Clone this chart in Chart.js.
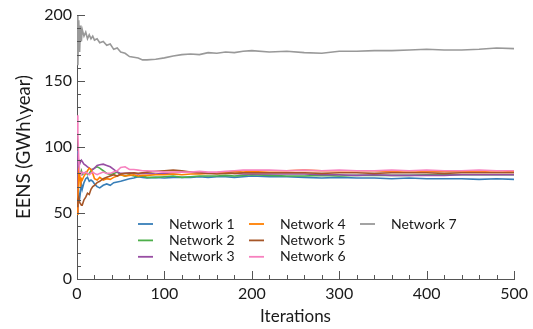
<!DOCTYPE html>
<html>
<head>
<meta charset="utf-8">
<script src="https://cdn.jsdelivr.net/npm/chart.js@4/dist/chart.umd.min.js"></script>
<style>
  html, body { margin: 0; padding: 0; background: #fff; }
  #wrap { width: 533px; height: 329px; }
</style>
</head>
<body>
<div id="wrap"><canvas id="eensChart" width="533" height="329"></canvas></div>
<script>
// iteration positions of the sampled points
const iterations = [0,1,2,3,4,5,6,8,10,12,14,16,18,20,23,26,30,34,38,42,46,50,55,60,65,70,75,80,90,100,
  110,120,130,140,150,160,170,180,190,200,220,240,260,280,300,320,340,360,380,400,420,440,460,480,500];

const network1 = [97,80,63,61,66,72,68,73,76,77,74,75,74,72,70,69,71,72,71,73,73.5,74,75,76,76.5,77.5,77,76.5,77,76.5,
  77,77,77,77.5,77,77.5,77.5,77,77.5,78,77.5,77.5,77,76.5,77,76.5,76.5,76,76.5,76,76,76,75.5,76,75.5];
const network2 = [89,86,84,81,80,82,79,80,81,79,80,82,83,84,85,84,82,80,79,80,81,79,78,79,78,77.5,78,77,77,77.5,
  78,77,77.5,78,78,78,78.5,78,78.5,79,78.5,78,78,78.5,78,78.5,78.5,78.5,78.5,79,79,79,79,79,79];
const network3 = [50,92,90,87,89,90,89,87,86,85,84,83,83,84,86,86.5,87,86,85,83,81,80,80,80.5,80,79.5,80,80,79.5,80,
  80.5,81,81,80.5,80.5,80.5,81,80,79.5,79.5,79.5,79.5,79.5,79,79,78.5,79,78.5,78.5,78.5,78.5,79,79,79,79];
const network4 = [49,60,82,80,70,76,75,78,80,82,84,83,80,76,75,77,75,76,75.5,77,78,79,78,78.5,79,78,78.5,78.5,79,79,
  79.5,79,79.5,79.5,80,80.5,81,81.5,81,81.5,82,82,82.5,82,82,82,82,81.5,82,81.5,81.5,81.5,81.5,82,81.5];
const network5 = [55,60,62,58,57,56,56,60,62,65,64,68,70,71,73,74,76,77,78,79,78,79.5,80,80,80.5,80,80.5,81,81.5,82,
  82.5,82,81,80.5,80,79.5,80,80,80.5,80.5,80.5,80.5,80.5,80,80.5,80.5,80,80.5,80.5,80.5,80,80.5,80.5,80.5,80.5];
const network6 = [124,110,90,82,80,79,81,80,81,80,79,80,81,80,79,80,81,80,80,81,82,84.5,85,83,83,82.5,82,82,81.5,81,
  81,81,81,81.5,81,81,81.5,82,82.5,82.5,82.5,82,82.5,82,82.5,82,82,82.5,82,82.5,82,82,82.5,82,82];
const network7 = [200,162,196,172,192,180,189,184,187,182,185,182,184,181,182,179,180,177,178,174,175,172,171,168.5,168,167.5,166,166,166.5,167.5,
  169,170,170.5,170,171.5,171,172,171.5,172.5,173,172,172.5,171.5,171,172.5,172.5,173,173,173.5,174,173.5,173.5,174,175,174.5];

const seriesNames = ['Network 1','Network 2','Network 3','Network 4','Network 5','Network 6','Network 7'];
const seriesValues = [network1, network2, network3, network4, network5, network6, network7];
const seriesColors = ['#377eb8','#4daf4a','#984ea3','#ff7f00','#a65628','#f781bf','#999999'];

const xTicks = [0,100,200,300,400,500];
const yTicks = [0,50,100,150,200];

const FONT = 'Lato, "Open Sans", sans-serif';
const TEXT = '#1a1a1a';

// inward major/minor tick marks, drawn from the scales
const inwardTicks = {
  id: 'inwardTicks',
  afterDraw(chart) {
    const ctx = chart.ctx;
    const xs = chart.scales.x, ys = chart.scales.y;
    const area = chart.chartArea;
    ctx.save();
    ctx.strokeStyle = '#555';
    ctx.lineWidth = 1;
    ctx.beginPath();
    for (let v = 0; v <= 500; v += 20) {
      const px = Math.round(xs.getPixelForValue(v)) + 0.5;
      const len = v % 100 === 0 ? 8 : 4;
      ctx.moveTo(px, area.bottom);
      ctx.lineTo(px, area.bottom - len);
    }
    for (let v = 0; v <= 200; v += 10) {
      const py = Math.round(ys.getPixelForValue(v)) + 0.5;
      const len = v % 50 === 0 ? 8 : 4;
      ctx.moveTo(area.left, py);
      ctx.lineTo(area.left + len, py);
    }
    ctx.stroke();
    ctx.restore();
  }
};

// legend in three columns inside the plot
const columnLegend = {
  id: 'columnLegend',
  afterDraw(chart) {
    const ctx = chart.ctx;
    const area = chart.chartArea;
    ctx.save();
    ctx.font = '14px ' + FONT;
    ctx.textBaseline = 'middle';
    ctx.fillStyle = TEXT;
    seriesNames.forEach((name, i) => {
      const col = Math.floor(i / 3), row = i % 3;
      const x = area.left + 61 + col * 111;
      const y = area.bottom - 55 + row * 16.4;
      ctx.strokeStyle = seriesColors[i];
      ctx.lineWidth = 1.8;
      ctx.beginPath();
      ctx.moveTo(x, y);
      ctx.lineTo(x + 15, y);
      ctx.stroke();
      ctx.fillText(name, x + 31, y);
    });
    ctx.restore();
  }
};

new Chart(document.getElementById('eensChart').getContext('2d'), {
  type: 'line',
  data: {
    datasets: seriesValues.map((vals, i) => ({
      label: seriesNames[i],
      data: iterations.map((it, j) => ({ x: it, y: vals[j] })),
      borderColor: seriesColors[i],
      backgroundColor: seriesColors[i],
      borderWidth: 1.6,
      pointRadius: 0,
      tension: 0,
      fill: false
    })).reverse()
  },
  options: {
    responsive: false,
    animation: false,
    layout: { padding: { top: 15, right: 17, left: 0, bottom: 0 } },
    plugins: { legend: { display: false }, tooltip: { enabled: false } },
    scales: {
      x: {
        type: 'linear',
        min: 0, max: 500,
        afterFit(scale) { scale.height = 50; },
        afterBuildTicks(scale) { scale.ticks = xTicks.map(v => ({ value: v })); },
        grid: { display: true, drawOnChartArea: false, drawTicks: false },
        border: { display: true, color: '#555', width: 1 },
        ticks: { padding: 5, color: TEXT, font: { family: FONT, size: 16 }, maxRotation: 0 },
        title: { display: true, text: 'Iterations', color: TEXT, font: { family: FONT, size: 17 }, padding: { top: 0, bottom: 2 } }
      },
      y: {
        min: 0, max: 200,
        afterFit(scale) { scale.width = 77; },
        afterBuildTicks(scale) { scale.ticks = yTicks.map(v => ({ value: v })); },
        grid: { display: true, drawOnChartArea: false, drawTicks: false },
        border: { display: true, color: '#555', width: 1 },
        ticks: { padding: 5, color: TEXT, font: { family: FONT, size: 16 } },
        title: { display: true, text: 'EENS (GWh\\year)', color: TEXT, font: { family: FONT, size: 18.5 }, padding: { top: 13, bottom: 0 } }
      }
    }
  },
  plugins: [inwardTicks, columnLegend]
});
</script>
</body>
</html>
